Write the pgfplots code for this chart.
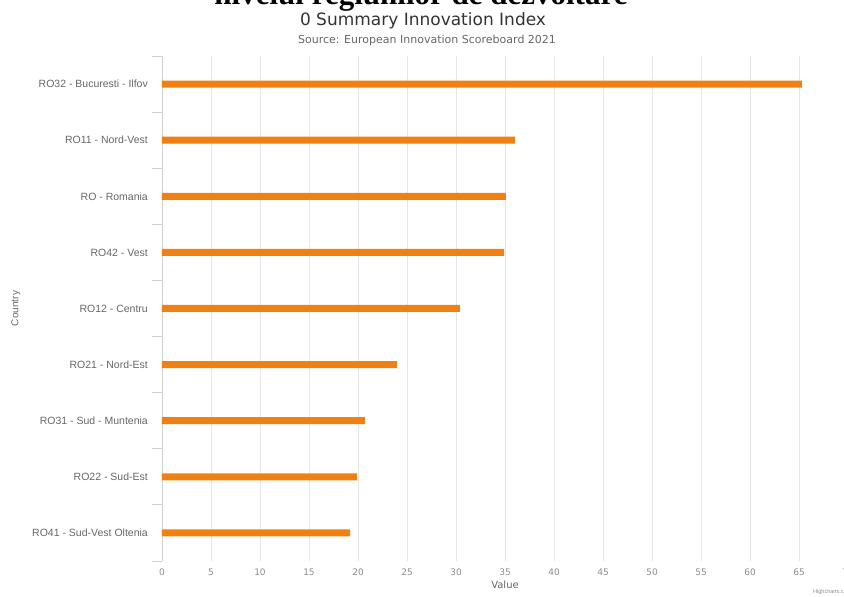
\documentclass[border=0pt]{standalone}
\usepackage{pgfplots}
\pgfplotsset{compat=1.18}
\usetikzlibrary{calc}
\usepackage{fontspec}
\setmainfont{Liberation Sans}
\newfontfamily\dejavu{DejaVu Sans}
\newfontfamily\serifbold{Liberation Serif}
\definecolor{barorange}{RGB}{240,128,18}
\definecolor{gridgray}{RGB}{230,230,230}
\definecolor{axisgray}{RGB}{208,208,208}
\definecolor{labgray}{RGB}{102,102,102}
\definecolor{tickgray}{RGB}{140,140,140}
\definecolor{titlegray}{RGB}{51,51,51}
\begin{document}
\begin{tikzpicture}[x=1bp,y=1bp]
\begin{axis}[
  name=ax,
  scale only axis, width=686bp, height=505bp,
  xbar, bar width=7bp,
  xmin=0, xmax=70, ymin=-0.5, ymax=8.5,
  axis lines*=left,
  axis line style={-, draw=axisgray},
  x axis line style={draw=none},
  xtick={0,5,...,70},
  xmajorgrids, grid style={draw=gridgray, line width=0.8bp},
  major x tick style={draw=none},
  /pgf/number format/assume math mode=true,
  xticklabel style={font=\dejavu\fontsize{9bp}{10bp}\selectfont, text=tickgray, anchor=base, yshift=-15bp},
  ytick={0,...,8},
  yticklabels={RO41 - Sud-Vest Oltenia, RO22 - Sud-Est, RO31 - Sud - Muntenia, RO21 - Nord-Est, RO12 - Centru, RO42 - Vest, RO - Romania, RO11 - Nord-Vest, RO32 - Bucuresti - Ilfov},
  major y tick style={draw=none},
  minor ytick={-0.5,0.5,...,8.5},
  minor y tick style={draw=axisgray, line width=0.8bp},
  tick align=outside,
  minor tick length=10bp, major tick length=0bp,
  yticklabel style={font=\fontsize{10.5bp}{12bp}\selectfont, text=labgray, anchor=east, inner sep=0pt, xshift=-14bp},
  xlabel={Value},
  xlabel style={font=\dejavu\fontsize{10bp}{12bp}\selectfont, text=labgray, at={(axis description cs:0.5,0)}, anchor=center, yshift=-24bp},
  ylabel={Country},
  ylabel style={font=\fontsize{10bp}{12bp}\selectfont, text=labgray, at={(axis description cs:-0.2128,0.5)}, anchor=center},
  clip=false,
]
\addplot[fill=barorange, draw=none] coordinates {
  (19.2,0) (19.9,1) (20.7,2) (24.0,3) (30.4,4) (34.9,5) (35.1,6) (36.0,7) (65.3,8)
};
\coordinate (O) at (rel axis cs:0,0);
\end{axis}
\begin{scope}[shift={($(O)+(-162,-36)$)}]
\node[anchor=base, inner sep=0pt, font=\serifbold\bfseries\fontsize{31bp}{34bp}\selectfont] at (421,592) {nivelul regiunilor de dezvoltare};
\node[anchor=center, inner sep=0pt, text=titlegray, font=\dejavu\fontsize{17bp}{19bp}\selectfont] at (423,576) {0 Summary Innovation Index};
\node[anchor=center, inner sep=0pt, text=labgray, font=\dejavu\fontsize{11bp}{13bp}\selectfont] at (427,557) {Source: European Innovation Scoreboard 2021};
\node[anchor=base west, inner sep=0pt, text=tickgray, font=\fontsize{5.5bp}{7bp}\selectfont] at (813,3) {Highcharts.com};
\pgfresetboundingbox
\path[use as bounding box] (0,0) rectangle (844,597);
\end{scope}
\end{tikzpicture}
\end{document}
